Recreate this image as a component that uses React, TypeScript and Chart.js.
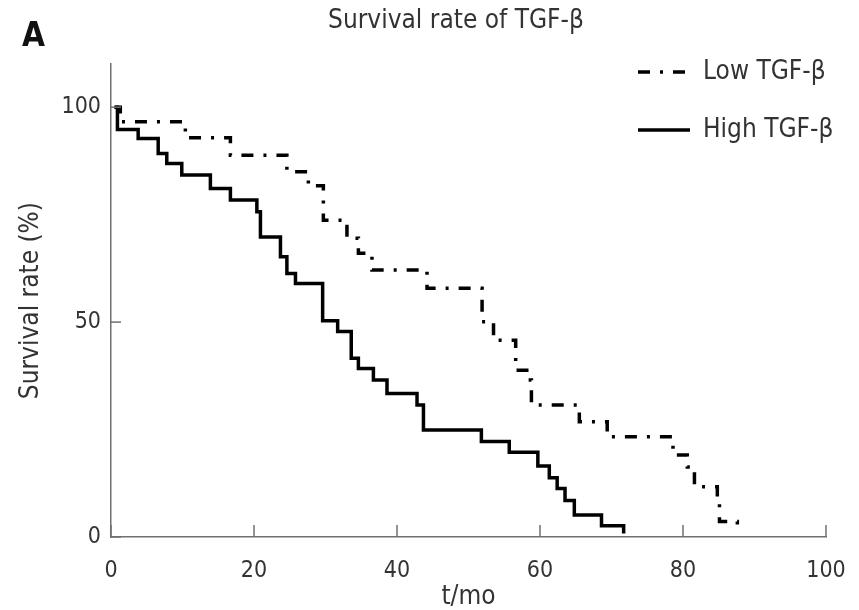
import React, { useEffect, useRef } from 'react';
import { Chart, registerables } from 'chart.js';

Chart.register(...registerables);

// ---- text ----
const chartTitle = 'Survival rate of TGF-β';
const panelLetter = 'A';
const xAxisTitle = 't/mo';
const yAxisTitle = 'Survival rate (%)';
const seriesNames = ['Low TGF-β', 'High TGF-β'];

// ---- tick values ----
const xTickValues = [0, 20, 40, 60, 80, 100];
const yTickValues = [0, 50, 100];

// ---- Kaplan-Meier steps (time in months, survival %) ----
const lowTimes = [0.5, 1.3, 10.4, 16.7, 24.6, 27.6, 29.7, 33, 34.6, 36.5, 44.2, 51.9, 53.5, 56.6, 58.4, 58.8, 65.5, 69.4, 78.6, 80.6, 81.6, 84.8, 85.1, 87.6];
const lowSurvival = [100, 96.6, 92.9, 88.8, 85, 81.7, 73.7, 69.5, 66, 62.1, 57.9, 50.1, 45.8, 38.8, 36.5, 30.7, 26.8, 23.3, 19.1, 16.3, 11.7, 8.6, 3.6, 0.8];

const highTimes = [0.5, 0.9, 3.8, 6.6, 7.8, 9.9, 13.9, 16.7, 20.4, 20.9, 23.7, 24.6, 25.8, 29.6, 31.7, 33.6, 34.6, 36.7, 38.6, 42.8, 43.7, 51.8, 55.7, 59.7, 61.3, 62.4, 63.5, 64.8, 68.6, 71.7];
const highSurvival = [100, 94.8, 92.7, 89.2, 86.9, 84.2, 81.1, 78.4, 75.7, 69.8, 65.2, 61.3, 59, 50.3, 47.8, 41.6, 39.2, 36.5, 33.4, 30.7, 24.9, 22.2, 19.7, 16.5, 13.8, 11.3, 8.5, 5.1, 2.6, 0.8];

const FONT = "'DejaVu Sans Condensed', 'DejaVu Sans', sans-serif";
const TEXT = '#333333';
const AXIS = '#707070';
const LINE_WIDTH = 3.5;
const LOW_DASH = [12, 10, 3, 10];

const toPoints = (t: number[], s: number[]) => t.map((x, i) => ({ x, y: s[i] }));

const innerTicks = {
  id: 'innerTicks',
  afterDatasetsDraw(chart: any) {
    const { ctx, chartArea } = chart;
    const xs = chart.scales.x;
    const ys = chart.scales.y;
    ctx.save();
    ctx.strokeStyle = AXIS;
    ctx.lineWidth = 1.5;
    xs.ticks.forEach((t: any) => {
      const px = xs.getPixelForValue(t.value);
      ctx.beginPath();
      ctx.moveTo(px, chartArea.bottom);
      ctx.lineTo(px, chartArea.bottom - 12);
      ctx.stroke();
    });
    ys.ticks.forEach((t: any) => {
      const py = ys.getPixelForValue(t.value);
      ctx.beginPath();
      ctx.moveTo(chartArea.left, py);
      ctx.lineTo(chartArea.left + 10, py);
      ctx.stroke();
    });
    ctx.restore();
  },
};

const panelLabel = {
  id: 'panelLabel',
  afterDraw(chart: any) {
    const { ctx } = chart;
    ctx.save();
    ctx.font = `bold 33px ${FONT}`;
    ctx.fillStyle = '#111111';
    ctx.textAlign = 'left';
    ctx.textBaseline = 'alphabetic';
    ctx.fillText(panelLetter, 22, 46);
    ctx.restore();
  },
};

const legendPlacer = {
  id: 'legendPlacer',
  afterLayout(chart: any) {
    const lg = chart.legend;
    if (!lg) return;
    lg.left = 606;
    lg.top = 27;
    lg.right = chart.width;
    lg.bottom = 300;
    lg.width = lg.right - lg.left;
    lg.height = lg.bottom - lg.top;
  },
};

export default function App() {
  const ref = useRef<HTMLCanvasElement>(null);

  useEffect(() => {
    if (!ref.current) return;
    const chart = new Chart(ref.current, {
      type: 'line',
      data: {
        datasets: [
          {
            label: seriesNames[0],
            data: toPoints(lowTimes, lowSurvival),
            borderColor: '#000000',
            backgroundColor: '#000000',
            borderWidth: LINE_WIDTH,
            borderDash: LOW_DASH,
            borderCapStyle: 'butt',
            stepped: 'before',
            pointRadius: 0,
            fill: false,
          },
          {
            label: seriesNames[1],
            data: toPoints(highTimes, highSurvival),
            borderColor: '#000000',
            backgroundColor: '#000000',
            borderWidth: LINE_WIDTH,
            stepped: 'before',
            pointRadius: 0,
            fill: false,
          },
        ],
      },
      options: {
        animation: false,
        responsive: true,
        maintainAspectRatio: false,
        layout: { padding: { left: 53, right: 0, top: 0, bottom: 0 } },
        scales: {
          x: {
            type: 'linear',
            min: 0,
            max: 100,
            afterBuildTicks: (s: any) => { s.ticks = xTickValues.map((v) => ({ value: v })); },
            afterFit: (s: any) => { s.height = 73; s.paddingRight = 33; },
            grid: { display: false, drawTicks: false },
            border: { display: true, color: AXIS, width: 1.5 },
            ticks: { color: TEXT, padding: 20, font: { family: FONT, size: 23 }, maxRotation: 0 },
            title: { display: true, text: xAxisTitle, color: TEXT, font: { family: FONT, size: 26 }, padding: { top: 0, bottom: -3 } },
          },
          y: {
            type: 'linear',
            min: 0,
            max: 110,
            afterBuildTicks: (s: any) => { s.ticks = yTickValues.map((v) => ({ value: v })); },
            afterFit: (s: any) => { s.width = 58; },
            grid: { display: false, drawTicks: false },
            border: { display: true, color: AXIS, width: 1.5 },
            ticks: { color: TEXT, padding: 10, font: { family: FONT, size: 23 } },
            title: { display: true, text: yAxisTitle, color: TEXT, font: { family: FONT, size: 26 }, padding: { top: -37, bottom: 0 } },
          },
        },
        plugins: {
          title: {
            display: true,
            text: chartTitle,
            color: TEXT,
            font: { family: FONT, size: 26, weight: 'normal' },
            padding: { top: 6, bottom: 27 },
          },
          legend: {
            display: true,
            position: 'chartArea',
            align: 'start',
            labels: {
              usePointStyle: true,
              pointStyle: 'line',
              pointStyleWidth: 52,
              padding: 32,
              color: TEXT,
              font: { family: FONT, size: 26 },
              generateLabels: (c: any) =>
                Chart.defaults.plugins.legend.labels.generateLabels(c).map((item: any, i: number) => ({
                  ...item,
                  lineDash: c.data.datasets[i].borderDash || [],
                  lineWidth: LINE_WIDTH,
                  strokeStyle: '#000000',
                  lineCap: 'butt',
                })),
            },
          },
          tooltip: { enabled: false },
        },
      },
      plugins: [innerTicks, panelLabel, legendPlacer],
    } as any);
    return () => chart.destroy();
  }, []);

  return (
    <div style={{ position: 'fixed', left: 0, top: 0, width: 859, height: 610, background: '#ffffff' }}>
      <canvas ref={ref} />
    </div>
  );
}
